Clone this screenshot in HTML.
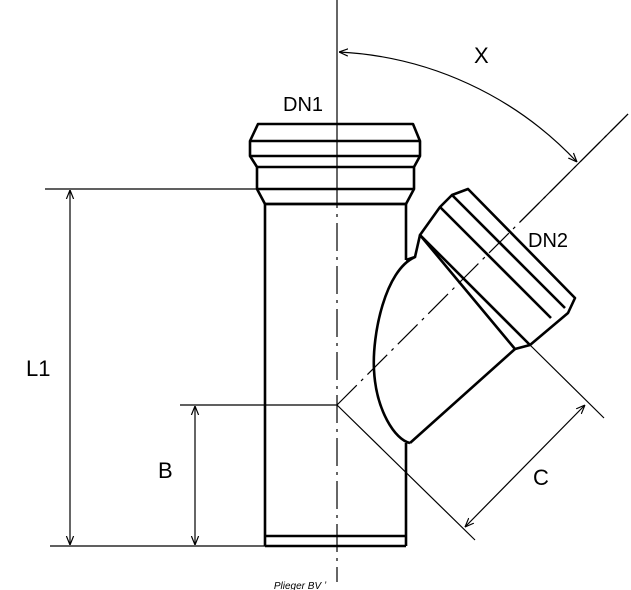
<!DOCTYPE html>
<html><head><meta charset="utf-8"><style>
html,body{margin:0;padding:0;background:#fff;}
svg{display:block;}
text{font-family:"Liberation Sans",sans-serif;fill:#000;}
</style></head><body>
<svg width="631" height="590" viewBox="0 0 631 590" xmlns="http://www.w3.org/2000/svg">
<defs>
<marker id="a" viewBox="0 0 10 10" refX="10" refY="5" markerWidth="9" markerHeight="9" orient="auto-start-reverse" markerUnits="userSpaceOnUse">
<path d="M0,1 L10,5 L0,9" fill="none" stroke="#000" stroke-width="1.3"/>
</marker>
</defs>
<g stroke="#000" fill="none" stroke-width="1.2">
<line x1="337" y1="0" x2="337" y2="180"/>
<line x1="337" y1="180" x2="337" y2="582" stroke-dasharray="28,6,3,6"/>
<line x1="337" y1="405" x2="628" y2="114" stroke-dasharray="28,6,3,6"/>
<line x1="520" y1="222" x2="628" y2="114"/>
<path d="M339,52 A350,350 0 0 1 577,162" marker-start="url(#a)" marker-end="url(#a)"/>
<line x1="45" y1="189" x2="258" y2="189"/>
<line x1="50" y1="546" x2="265" y2="546"/>
<line x1="70" y1="190" x2="70" y2="545" marker-start="url(#a)" marker-end="url(#a)"/>
<line x1="180" y1="405" x2="337" y2="405"/>
<line x1="195" y1="406" x2="195" y2="545" marker-start="url(#a)" marker-end="url(#a)"/>
<line x1="337" y1="405" x2="475" y2="540"/>
<line x1="530" y1="345" x2="604" y2="418"/>
<line x1="585" y1="405" x2="465" y2="527" marker-start="url(#a)" marker-end="url(#a)"/>
</g>
<g stroke="#000" fill="none" stroke-width="2.6" stroke-linejoin="round">
<path d="M265,204 L257,189 L257,167 L250,156 L250,141 L258,124 L413,124 L420,141 L420,156 L414,167 L414,189 L406,204"/>
<line x1="250" y1="141" x2="420" y2="141"/>
<line x1="250" y1="156" x2="420" y2="156"/>
<line x1="257" y1="167" x2="414" y2="167"/>
<line x1="257" y1="189" x2="414" y2="189"/>
<line x1="265" y1="204" x2="406" y2="204"/>
<line x1="265" y1="204" x2="406" y2="204"/>
<line x1="265" y1="204" x2="265" y2="546"/>
<line x1="406" y1="204" x2="406" y2="260"/>
<line x1="406" y1="443" x2="406" y2="546"/>
<line x1="265" y1="546" x2="406" y2="546"/>
<line x1="265" y1="536" x2="406" y2="536"/>
<path d="M406,260 L415,257 C385,270 372,335 374,370 C376,410 395,440 410,443"/>
<line x1="410" y1="443" x2="515" y2="349"/>
<line x1="415" y1="257" x2="420" y2="235"/>
<path d="M420,235 L440,207 L452,195 L468,189 L575,298 L568,313 L530,345 L515,349 Z"/>
<line x1="440" y1="207" x2="551" y2="318"/>
<line x1="452" y1="195" x2="565" y2="308"/>
<line x1="420" y1="235" x2="530" y2="345"/>
</g>
<text x="283" y="111" font-size="20">DN1</text>
<text x="528" y="247" font-size="20">DN2</text>
<text x="474" y="63" font-size="22">X</text>
<text x="26" y="376" font-size="22">L1</text>
<text x="158" y="478" font-size="22">B</text>
<text x="533" y="485" font-size="22">C</text>
<text x="300" y="589" font-size="10" font-style="italic" text-anchor="middle">Plieger BV ʼ</text>
</svg>
</body></html>
